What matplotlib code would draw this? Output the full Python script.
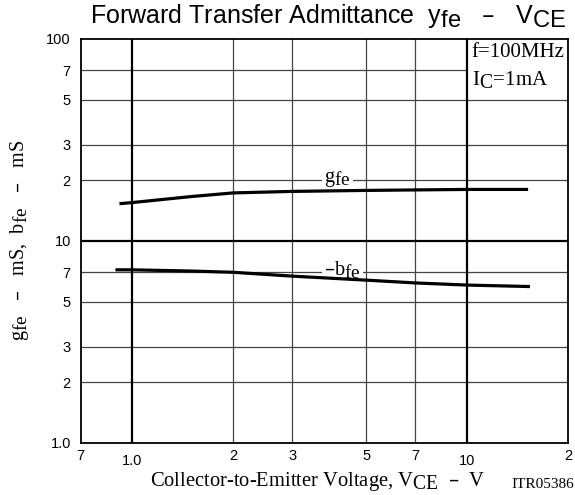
import matplotlib
matplotlib.use("Agg")
import matplotlib.pyplot as plt
import matplotlib._mathtext as _mt

# the reference sets subscripts at nearly full size
_mt.SHRINK_FACTOR = 0.95

# ---- data ----
vce_g = [0.915, 1.0, 1.5, 2.0, 3.0, 5.0, 7.0, 10.0, 15.2]
gfe = [15.3, 15.5, 16.6, 17.3, 17.6, 17.8, 17.9, 18.0, 18.0]
vce_b = [0.89, 1.0, 1.5, 2.0, 3.0, 5.0, 7.0, 10.0, 15.4]
bfe = [7.2, 7.2, 7.1, 7.0, 6.7, 6.4, 6.2, 6.05, 5.95]

x_ticks = [0.7, 1.0, 2, 3, 5, 7, 10, 20]
x_ticklabels = ["7", "1.0", "2", "3", "5", "7", "10", "2"]
y_ticks = [1, 2, 3, 5, 7, 10, 20, 30, 50, 70, 100]
y_ticklabels = ["1.0", "2", "3", "5", "7", "10", "2", "3", "5", "7", "100"]
x_thin = [2, 3, 5, 7]
x_thick = [1, 10]
y_thin = [2, 3, 5, 7, 20, 30, 50, 70]
y_thick = [10]

SANS = "Liberation Sans"
SERIF = "Liberation Serif"

fig = plt.figure(figsize=(5.75, 4.95), dpi=100)
ax = fig.add_axes([80.5 / 575, 1 - 443 / 495, (568 - 80.5) / 575, (443 - 39) / 495])
ax.set_xscale("log")
ax.set_yscale("log")
ax.set_xlim(0.7, 20)
ax.set_ylim(1, 100)

for v in x_thin:
    ax.axvline(v, color="#444444", lw=0.9, zorder=1)
for v in y_thin:
    ax.axhline(v, color="#444444", lw=0.9, zorder=1)
for v in x_thick:
    ax.axvline(v, color="black", lw=1.6, zorder=3)
for v in y_thick:
    ax.axhline(v, color="black", lw=1.6, zorder=3)

ax.plot(vce_g, gfe, color="black", lw=2.3, zorder=4, solid_capstyle="butt")
ax.plot(vce_b, bfe, color="black", lw=2.3, zorder=4, solid_capstyle="butt")

for s in ax.spines.values():
    s.set_linewidth(1.3)
    s.set_color("black")

ax.minorticks_off()
ax.set_xticks(x_ticks)
ax.set_xticklabels(x_ticklabels, fontfamily=SANS, fontsize=10.5)
ax.set_yticks(y_ticks)
ax.set_yticklabels(y_ticklabels, fontfamily=SANS, fontsize=10.5)
ax.tick_params(axis="both", length=0)
ax.tick_params(axis="y", pad=7)
for i, t in enumerate(ax.xaxis.get_major_ticks()):
    t.set_pad(8 if x_ticklabels[i] in ("1.0", "10") else 4)

# curve labels
ax.text(4.1, 20, r"$\mathregular{g_{fe}}$", fontfamily=SERIF, fontsize=14.5,
        ha="center", va="center", zorder=2,
        bbox=dict(boxstyle="square,pad=0.1", fc="white", ec="none"))
ax.text(4.25, 7.25, r"–$\mathregular{b_{fe}}$", fontfamily=SERIF, fontsize=14.5,
        ha="center", va="center", zorder=2,
        bbox=dict(boxstyle="square,pad=0.1", fc="white", ec="none"))

# conditions box
ax.text(10.3, 96, "f=100MHz\n" + r"$\mathregular{I_C}$=1mA", fontfamily=SERIF,
        fontsize=15, ha="left", va="top", linespacing=1.45, zorder=2,
        bbox=dict(boxstyle="square,pad=0.25", fc="white", ec="none"))

# titles / labels
fig.text(90 / 575, 1 - 23 / 495,
         r"Forward Transfer Admittance  $\mathregular{y_{fe}}$   –   $\mathregular{V_{CE}}$",
         fontfamily=SANS, fontsize=18, ha="left", va="baseline")
fig.text(20 / 575, 1 - 240 / 495,
         r"$\mathregular{g_{fe}}$   –   mS,  $\mathregular{b_{fe}}$   –   mS",
         fontfamily=SERIF, fontsize=14.5, rotation=90, ha="center", va="center")
fig.text(150 / 575, 1 - 486 / 495,
         r"Collector-to-Emitter Voltage, $\mathregular{V_{CE}}$  –  V",
         fontfamily=SERIF, fontsize=14.8, ha="left", va="baseline")
fig.text(574 / 575, 1 - 488 / 495, "ITR05386", fontfamily=SERIF, fontsize=11,
         ha="right", va="baseline")

fig.savefig("out.png", dpi=100)
